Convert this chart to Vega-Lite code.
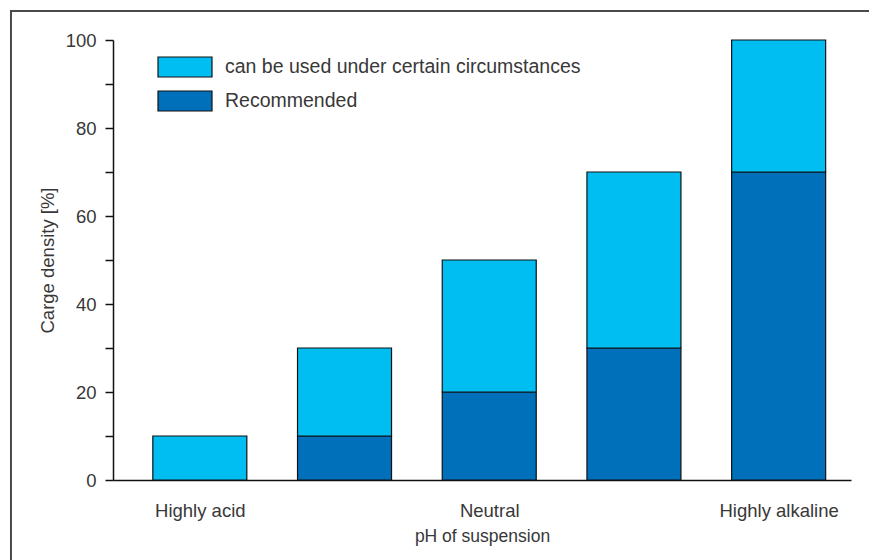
{
  "$schema": "https://vega.github.io/schema/vega-lite/v6.json",
  "width": 738,
  "height": 440,
  "autosize": {"type": "none"},
  "padding": {"left": 113, "top": 40, "right": 18, "bottom": 80},
  "background": "white",
  "config": {
    "view": {"stroke": null},
    "font": "Liberation Sans",
    "axis": {"labelFont": "Liberation Sans", "titleFont": "Liberation Sans", "labelColor": "#383838", "titleColor": "#383838", "domainColor": "#111", "tickColor": "#111", "titleFontWeight": "normal", "grid": false},
    "legend": {"labelFont": "Liberation Sans", "labelColor": "#383838"}
  },
  "datasets": {
    "bars": [
      {"ph": 1, "use": "can be used under certain circumstances", "value": 10, "rank": 2},
      {"ph": 2, "use": "Recommended", "value": 10, "rank": 1},
      {"ph": 2, "use": "can be used under certain circumstances", "value": 20, "rank": 2},
      {"ph": 3, "use": "Recommended", "value": 20, "rank": 1},
      {"ph": 3, "use": "can be used under certain circumstances", "value": 30, "rank": 2},
      {"ph": 4, "use": "Recommended", "value": 30, "rank": 1},
      {"ph": 4, "use": "can be used under certain circumstances", "value": 40, "rank": 2},
      {"ph": 5, "use": "Recommended", "value": 70, "rank": 1},
      {"ph": 5, "use": "can be used under certain circumstances", "value": 30, "rank": 2}
    ],
    "frame": [{"x0": -0.305, "x1": 8, "y0": -30, "y1": 106.6}]
  },
  "layer": [
    {
      "data": {"name": "frame"},
      "mark": {"type": "rect", "fill": null, "stroke": "#4a4a4a", "strokeWidth": 2, "clip": false},
      "encoding": {
        "x": {"field": "x0", "type": "quantitative", "scale": {"domain": [0.4, 5.5], "nice": false, "padding": 0}},
        "x2": {"field": "x1"},
        "y": {"field": "y0", "type": "quantitative", "scale": {"domain": [0, 100], "nice": false}},
        "y2": {"field": "y1"}
      }
    },
    {
      "data": {"name": "bars"},
      "mark": {"type": "bar", "width": 94, "stroke": "#111", "strokeWidth": 1.2},
      "encoding": {
        "x": {
          "field": "ph",
          "type": "quantitative",
          "scale": {"domain": [0.4, 5.5], "nice": false, "zero": false, "padding": 0},
          "axis": {
            "title": "pH of suspension",
            "titleFontSize": 17.5,
            "titlePadding": 8,
            "values": [1, 3, 5],
            "labelExpr": "datum.value == 1 ? 'Highly acid' : datum.value == 3 ? 'Neutral' : 'Highly alkaline'",
            "labelFontSize": 18.5,
            "labelPadding": 21,
            "ticks": false,
            "domainWidth": 1.5
          }
        },
        "y": {
          "field": "value",
          "type": "quantitative",
          "stack": "zero",
          "scale": {"domain": [0, 100], "nice": false},
          "axis": {
            "title": "Carge density [%]",
            "titleFontSize": 18.5,
            "titlePadding": 8,
            "values": [0, 10, 20, 30, 40, 50, 60, 70, 80, 90, 100],
            "labelExpr": "datum.value % 20 == 0 ? datum.label : ''",
            "labelFontSize": 18.5,
            "labelPadding": 9,
            "tickSize": 8,
            "tickWidth": 1.5,
            "domainWidth": 1.5
          }
        },
        "color": {
          "field": "use",
          "type": "nominal",
          "scale": {"domain": ["can be used under certain circumstances", "Recommended"], "range": ["#00BEF2", "#0070BA"]},
          "legend": {
            "title": null,
            "orient": "none",
            "legendX": 61,
            "legendY": 16,
            "symbolType": "M-2.7,-1L2.7,-1L2.7,1L-2.7,1Z",
            "symbolSize": 400,
            "symbolStrokeColor": "#111",
            "symbolStrokeWidth": 1.2,
            "labelFontSize": 19.5,
            "labelOffset": 29,
            "rowPadding": 8,
            "labelLimit": 500
          }
        },
        "order": {"field": "rank", "type": "quantitative"}
      }
    }
  ]
}
